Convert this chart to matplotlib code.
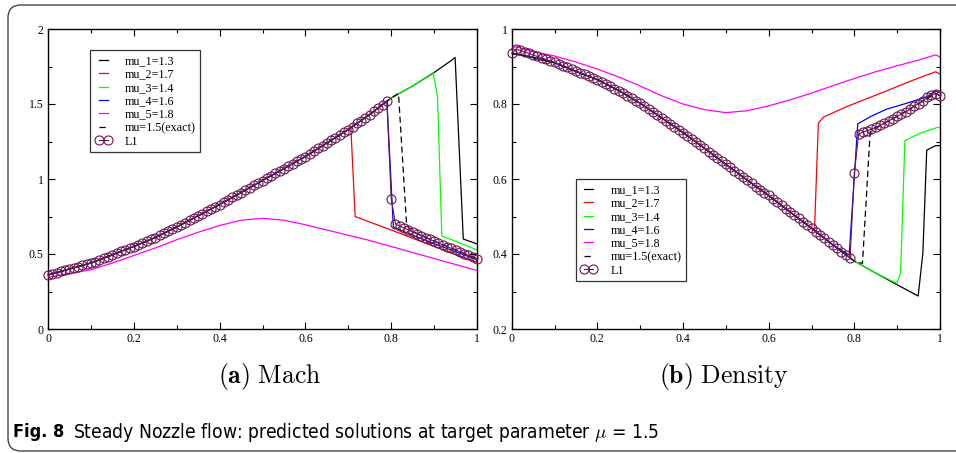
import numpy as np
import matplotlib.pyplot as plt
from matplotlib.patches import FancyBboxPatch
from matplotlib.transforms import IdentityTransform
from matplotlib.ticker import MultipleLocator, FuncFormatter

plt.rcParams['mathtext.fontset'] = 'cm'
plt.rcParams['font.family'] = ['Liberation Serif', 'DejaVu Serif']

# nodes of the predicted (L1) solution
x_nodes = np.linspace(0.0, 1.0, 101)

# branch before the shock, shared by all shocked solutions
x_up = [0.00, 0.05, 0.10, 0.15, 0.20, 0.25, 0.30, 0.35, 0.40, 0.45,
        0.50, 0.55, 0.60, 0.65, 0.70, 0.75, 0.80, 0.85, 0.90]
mach_up = [0.360, 0.400, 0.440, 0.495, 0.550, 0.610, 0.680, 0.755, 0.830, 0.910,
           0.990, 1.070, 1.150, 1.240, 1.330, 1.430, 1.540, 1.620, 1.710]
rho_up = [0.935, 0.924, 0.910, 0.887, 0.865, 0.836, 0.802, 0.763, 0.724, 0.682,
          0.639, 0.597, 0.556, 0.512, 0.469, 0.424, 0.381, 0.349, 0.318]

# ---- Mach: upstream nodes kept, then shock + subsonic part
m1_n, m1_x, m1_y = 19, [0.940, 0.949, 0.968, 1.000], [1.790, 1.810, 0.600, 0.567]
m2_n, m2_x, m2_y = 15, [0.706, 0.716, 0.750, 0.800, 0.850, 0.900, 0.950, 1.000], \
                       [1.340, 0.750, 0.713, 0.660, 0.605, 0.550, 0.497, 0.445]
m3_n, m3_x, m3_y = 18, [0.898, 0.908, 0.918, 0.950, 1.000], [1.710, 1.550, 0.620, 0.585, 0.527]
m4_n, m4_x, m4_y = 16, [0.790, 0.805, 0.850, 0.900, 0.950, 1.000], \
                       [1.520, 0.680, 0.625, 0.570, 0.515, 0.462]
me_n, me_x, me_y = 17, [0.817, 0.836, 0.850, 0.900, 0.950, 1.000], \
                       [1.570, 0.690, 0.650, 0.587, 0.528, 0.470]
m5_x = [0.00, 0.05, 0.10, 0.15, 0.20, 0.25, 0.30, 0.35, 0.40, 0.45, 0.50,
        0.55, 0.60, 0.65, 0.70, 0.75, 0.80, 0.85, 0.90, 0.95, 1.00]
m5_y = [0.345, 0.370, 0.395, 0.440, 0.490, 0.540, 0.595, 0.645, 0.690, 0.725, 0.738,
        0.725, 0.695, 0.660, 0.625, 0.590, 0.550, 0.510, 0.470, 0.430, 0.390]

mach_L1 = [0.360, 0.368, 0.376, 0.384, 0.392, 0.400, 0.408, 0.416, 0.424, 0.432,
           0.440, 0.450, 0.461, 0.472, 0.483, 0.495, 0.506, 0.517, 0.528, 0.539,
           0.550, 0.562, 0.574, 0.586, 0.598, 0.610, 0.624, 0.638, 0.652, 0.666,
           0.680, 0.695, 0.710, 0.725, 0.740, 0.755, 0.770, 0.785, 0.800, 0.815,
           0.830, 0.846, 0.862, 0.878, 0.894, 0.910, 0.926, 0.942, 0.958, 0.974,
           0.990, 1.006, 1.022, 1.038, 1.054, 1.070, 1.086, 1.102, 1.118, 1.134,
           1.150, 1.168, 1.186, 1.204, 1.222, 1.240, 1.258, 1.276, 1.294, 1.312,
           1.330, 1.350, 1.370, 1.390, 1.410, 1.430, 1.452, 1.474, 1.496, 1.520,
           0.870, 0.700, 0.686, 0.673, 0.660, 0.647, 0.634, 0.622, 0.609, 0.597,
           0.585, 0.573, 0.561, 0.549, 0.537, 0.526, 0.514, 0.502, 0.491, 0.479,
           0.468]

# ---- Density
r1_n, r1_x, r1_y = 19, [0.949, 0.960, 0.969, 0.990, 1.000], [0.288, 0.402, 0.677, 0.689, 0.689]
r2_n, r2_x, r2_y = 15, [0.707, 0.716, 0.728, 0.782, 0.860, 0.938, 0.990, 1.000], \
                       [0.465, 0.749, 0.765, 0.793, 0.828, 0.864, 0.886, 0.880]
r3_n, r3_x, r3_y = 18, [0.899, 0.908, 0.918, 0.953, 0.995, 1.000], \
                       [0.322, 0.350, 0.702, 0.722, 0.738, 0.737]
r4_n, r4_x, r4_y = 16, [0.788, 0.808, 0.837, 0.875, 0.922, 0.969, 0.990, 1.000], \
                       [0.397, 0.747, 0.766, 0.786, 0.802, 0.819, 0.835, 0.830]
re_n, re_x, re_y = 17, [0.819, 0.837, 0.870, 0.900, 0.950, 0.990, 1.000], \
                       [0.375, 0.726, 0.749, 0.767, 0.801, 0.828, 0.822]
r5_x = [0.00, 0.01, 0.05, 0.10, 0.15, 0.20, 0.25, 0.30, 0.35, 0.40, 0.45, 0.50,
        0.55, 0.60, 0.65, 0.70, 0.75, 0.80, 0.85, 0.90, 0.95, 0.99, 1.00]
r5_y = [0.948, 0.953, 0.940, 0.928, 0.912, 0.893, 0.872, 0.848, 0.822, 0.800, 0.785, 0.777,
        0.782, 0.795, 0.811, 0.829, 0.849, 0.868, 0.886, 0.902, 0.917, 0.931, 0.925]

rho_L1 = [0.935, 0.946, 0.943, 0.939, 0.935, 0.930, 0.927, 0.923, 0.919, 0.915,
          0.911, 0.907, 0.902, 0.898, 0.893, 0.888, 0.884, 0.879, 0.874, 0.869,
          0.865, 0.859, 0.853, 0.847, 0.841, 0.836, 0.829, 0.822, 0.816, 0.809,
          0.802, 0.794, 0.786, 0.779, 0.771, 0.763, 0.755, 0.747, 0.740, 0.732,
          0.724, 0.716, 0.707, 0.699, 0.690, 0.682, 0.673, 0.665, 0.656, 0.648,
          0.639, 0.631, 0.622, 0.614, 0.605, 0.597, 0.589, 0.580, 0.572, 0.564,
          0.556, 0.547, 0.538, 0.530, 0.521, 0.512, 0.503, 0.495, 0.486, 0.478,
          0.469, 0.460, 0.451, 0.442, 0.433, 0.424, 0.415, 0.406, 0.398, 0.390,
          0.615, 0.720, 0.725, 0.729, 0.733, 0.738, 0.743, 0.749, 0.755, 0.761,
          0.767, 0.773, 0.779, 0.786, 0.795, 0.801, 0.808, 0.818, 0.824, 0.828,
          0.822]

labels = ['mu_1=1.3', 'mu_2=1.7', 'mu_3=1.4', 'mu_4=1.6', 'mu_5=1.8', 'mu=1.5(exact)', 'L1']
colors = ['black', 'red', '#00ff00', 'blue', 'magenta']
L1_color = '#6a1452'

W, H = 956, 453
fig = plt.figure(figsize=(W / 100, H / 100), dpi=100)


def fmt(v, pos):
    return '%g' % round(v, 3)


def draw_panel(ax, up, cases, sub5, exact, L1, ylim, major, minor):
    for (n, tx, ty), c, lab in zip(cases, colors, labels):
        ax.plot(x_up[:n] + tx, up[:n] + ty, color=c, lw=0.9, label=lab)
        if c == 'blue':
            ax.plot(sub5[0], sub5[1], color='magenta', lw=0.9, label=labels[4])
    n, tx, ty = exact
    ax.plot(x_up[:n] + tx, up[:n] + ty, color='black', lw=0.9, ls=(0, (5, 3)), label=labels[5])
    ax.plot(x_nodes, L1, color=L1_color, lw=0.8, marker='o', ms=6.5, mfc='none',
            mew=0.8, label=labels[6], clip_on=False, zorder=5)
    ax.set_xlim(0, 1)
    ax.set_ylim(*ylim)
    ax.xaxis.set_major_locator(MultipleLocator(0.2))
    ax.xaxis.set_minor_locator(MultipleLocator(0.1))
    ax.yaxis.set_major_locator(MultipleLocator(major))
    ax.yaxis.set_minor_locator(MultipleLocator(minor))
    ax.xaxis.set_major_formatter(FuncFormatter(fmt))
    ax.yaxis.set_major_formatter(FuncFormatter(fmt))
    ax.tick_params(which='both', direction='in', top=True, right=True, labelsize=8.5,
                   width=0.8, pad=3)
    ax.tick_params(which='major', length=5)
    ax.tick_params(which='minor', length=3)
    for s in ax.spines.values():
        s.set_linewidth(1.0)


axL = fig.add_axes([48 / W, 1 - 329 / H, 429 / W, 300 / H])
draw_panel(axL, mach_up,
           [(m1_n, m1_x, m1_y), (m2_n, m2_x, m2_y), (m3_n, m3_x, m3_y), (m4_n, m4_x, m4_y)],
           (m5_x, m5_y), (me_n, me_x, me_y), mach_L1, (0, 2), 0.5, 0.25)

axR = fig.add_axes([511.7 / W, 1 - 329 / H, 428.3 / W, 300 / H])
draw_panel(axR, rho_up,
           [(r1_n, r1_x, r1_y), (r2_n, r2_x, r2_y), (r3_n, r3_x, r3_y), (r4_n, r4_x, r4_y)],
           (r5_x, r5_y), (re_n, re_x, re_y), rho_L1, (0.2, 1), 0.2, 0.1)

for ax, anchor in [(axL, (0.098, 0.93)), (axR, (0.150, 0.50))]:
    leg = ax.legend(loc='upper left', bbox_to_anchor=anchor, borderaxespad=0,
                    fontsize=8.7, numpoints=2, handlelength=1.35, handletextpad=1.1,
                    labelspacing=0.12, borderpad=0.4, fancybox=False, frameon=True)
    leg.get_frame().set_edgecolor('black')
    leg.get_frame().set_linewidth(0.9)

fig.text(270 / W, 1 - 376 / H, r'$\mathbf{(a)}\ \mathrm{Mach}$', ha='center', va='center', fontsize=18.5)
fig.text(724 / W, 1 - 376 / H, r'$\mathbf{(b)}\ \mathrm{Density}$', ha='center', va='center', fontsize=18.5)

cap_font = ['DejaVu Sans Condensed', 'Liberation Sans Narrow', 'DejaVu Sans']
fig.text(13 / W, 1 - 432 / H, 'Fig. 8', ha='left', va='center', fontsize=13,
         fontweight='bold', family=cap_font, stretch='condensed')
fig.text(73 / W, 1 - 432 / H, r'Steady Nozzle flow: predicted solutions at target parameter $\mu$ = 1.5',
         ha='left', va='center', fontsize=13.8, family=cap_font, stretch='condensed')

# rounded frame around the figure
frame = FancyBboxPatch((8, H - 451), 980, 446, boxstyle='round,pad=0,rounding_size=13',
                       transform=IdentityTransform(), fill=False, edgecolor='#444444',
                       lw=1.0, clip_on=False)
fig.patches.append(frame)

fig.savefig('out.png', dpi=100)
